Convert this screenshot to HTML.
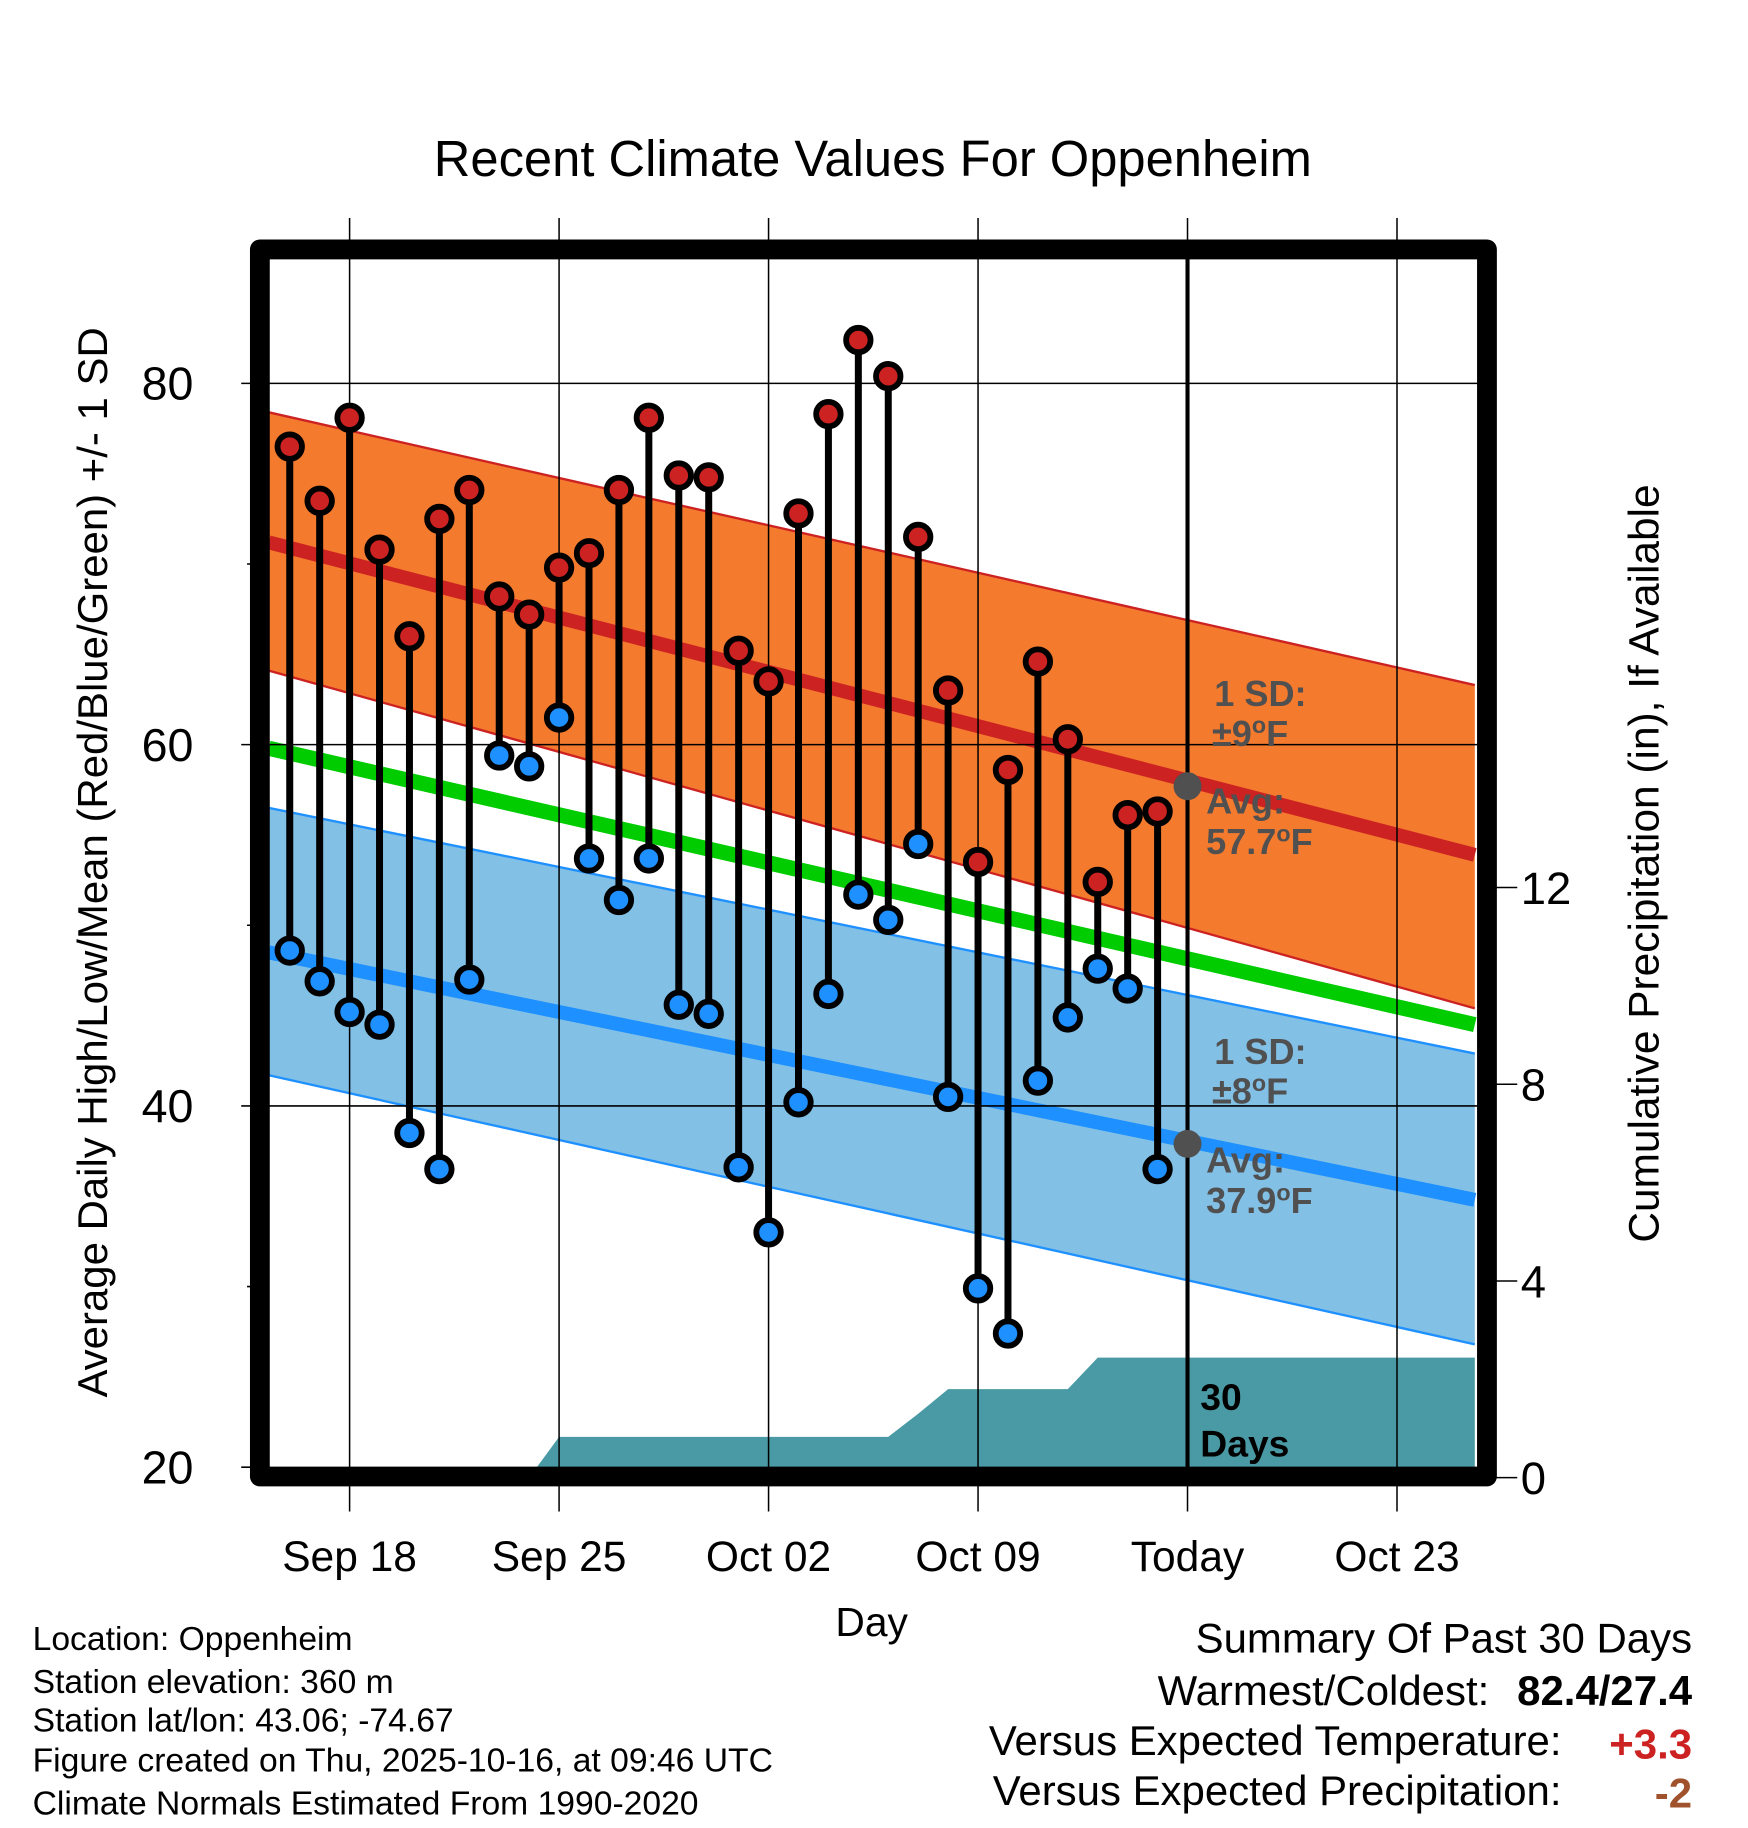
<!DOCTYPE html>
<html><head><meta charset="utf-8"><style>
html,body{margin:0;padding:0;background:#fff}
svg{display:block}
text{font-family:"Liberation Sans",Arial,sans-serif}
</style></head><body>
<svg id="chart" width="1748" height="1828" viewBox="0 0 1500 1568.6" xmlns="http://www.w3.org/2000/svg">
<text x="749" y="151" font-size="43.5" text-anchor="middle">Recent Climate Values For Oppenheim</text>
<g id="plot"></g>
<text transform="translate(92,740) rotate(-90)" font-size="36" text-anchor="middle">Average Daily High/Low/Mean (Red/Blue/Green) +/- 1 SD</text>
<text transform="translate(1423,741) rotate(-90)" font-size="36.4" text-anchor="middle">Cumulative Precipitation (in), If Available</text>
<text x="748" y="1404" font-size="35" text-anchor="middle">Day</text>
<g font-size="28.9">
<text x="28" y="1416">Location: Oppenheim</text>
<text x="28" y="1453">Station elevation: 360 m</text>
<text x="28" y="1486">Station lat/lon: 43.06; -74.67</text>
<text x="28" y="1520">Figure created on Thu, 2025-10-16, at 09:46 UTC</text>
<text x="28" y="1557">Climate Normals Estimated From 1990-2020</text>
</g>
<g font-size="36" text-anchor="end">
<text x="1452" y="1418">Summary Of Past 30 Days</text>
<text x="1278" y="1463">Warmest/Coldest:</text>
<text x="1452" y="1463" font-weight="bold">82.4/27.4</text>
<text x="1340" y="1506">Versus Expected Temperature:</text>
<text x="1452" y="1509" font-weight="bold" fill="#cc2222">+3.3</text>
<text x="1340" y="1549">Versus Expected Precipitation:</text>
<text x="1452" y="1551" font-weight="bold" fill="#a0522d">-2</text>
</g>
</svg>
<script>
// data
const dayOffsets = [-2,-1,0,1,2,3,4,5,6,7,8,9,10,11,12,13,14,15,16,17,18,19,20,21,22,23,24,25,26,27];
const highs = [76.5,73.5,78.1,70.8,66.0,72.5,74.1,68.2,67.2,69.8,70.6,74.1,78.1,74.9,74.8,65.2,63.5,72.8,78.3,82.4,80.4,71.5,63.0,53.5,58.6,64.6,60.3,52.4,56.1,56.3];
const lows = [48.6,46.9,45.2,44.5,38.5,36.5,47.0,59.4,58.8,61.5,53.7,51.4,53.7,45.6,45.1,36.6,33.0,40.2,46.2,51.7,50.3,54.5,40.5,29.9,27.4,41.4,44.9,47.6,46.5,36.5];
const normalDays = [-2.7, 37.6];
const highUpper = [78.4, 63.3];
const highMean = [71.2, 53.9];
const highLower = [64.1, 45.4];
const meanNormal = [59.8, 44.5];
const lowUpper = [56.5, 42.9];
const lowMean = [48.5, 34.8];
const lowLower = [41.7, 26.8];
const precipDays = [-2,6,7,18,19,20,24,25,28,37.6];
const precipCum = [0,0,0.83,0.83,1.3,1.8,1.8,2.44,2.44,2.44];
const xTickDays = [0,7,14,21,28,35];
const xTickLabels = ["Sep 18","Sep 25","Oct 02","Oct 09","Today","Oct 23"];
const yTicks = [20,40,60,80];
const yMinor = [30,50,70];
const y2Ticks = [0,4,8,12];
const todayDay = 28;
const todayHighAvg = 57.7, todayLowAvg = 37.9;

const X = d => 300 + 25.68*d;
const Y = t => 329 + (80-t)*15.5;
const Y2 = p => 1268 - 42.2*p;
const L=230,R=1268,T=220,B=1259;
const NS="http://www.w3.org/2000/svg";
const plot=document.getElementById('plot');
function mk(tag,attrs,parent){const e=document.createElementNS(NS,tag);for(const k in attrs)e.setAttribute(k,attrs[k]);(parent||plot).appendChild(e);return e;}

const defs=mk('defs',{});
const cp=mk('clipPath',{id:'clip'},defs);mk('rect',{x:L,y:T,width:R-L,height:B-T},cp);
const g=mk('g',{'clip-path':'url(#clip)'});

function band(up,lo,fill,edge,name){
  const p=mk('polygon',{points:`${X(normalDays[0])},${Y(up[0])} ${X(normalDays[1])},${Y(up[1])} ${X(normalDays[1])},${Y(lo[1])} ${X(normalDays[0])},${Y(lo[0])}`,fill:fill},g);
  
  
  [up,lo].forEach(a=>{const l=mk('line',{x1:X(normalDays[0]),y1:Y(a[0]),x2:X(normalDays[1]),y2:Y(a[1]),stroke:edge,'stroke-width':2},g);
    
    });
}
function mline(a,color,w,name){const l=mk('line',{x1:X(normalDays[0]),y1:Y(a[0]),x2:X(normalDays[1]),y2:Y(a[1]),stroke:color,'stroke-width':w},g);
  
  }
band(highUpper,highLower,'#f47a2e','#cc2222','high-sd-band');
band(lowUpper,lowLower,'#82c0e6','#1e90ff','low-sd-band');
mline(highMean,'#cc2222',12,'normal-high-line');
mline(lowMean,'#1e90ff',12,'normal-low-line');
mline(meanNormal,'#00cc00',13,'normal-mean-line');

// grid
yTicks.forEach(t=>{ if(t>20){const l=mk('line',{x1:L,x2:R,y1:Y(t),y2:Y(t),stroke:'#000','stroke-width':1.3});
  
  }
  const tk=mk('line',{x1:207,x2:L,y1:Y(t),y2:Y(t),stroke:'#000','stroke-width':1.3});
  
  
  const tx=mk('text',{x:166,y:Y(t)+14,'font-size':40,'text-anchor':'end'});tx.textContent=t;
  
  
});
yMinor.forEach(t=>{const tk=mk('line',{x1:212,x2:L,y1:Y(t),y2:Y(t),stroke:'#000','stroke-width':1.3});
  
  });
xTickDays.forEach((d,i)=>{const l=mk('line',{x1:X(d),x2:X(d),y1:187,y2:1297,stroke:'#000','stroke-width':1.3});
  
  
  const tx=mk('text',{x:X(d),y:1348,'font-size':36.5,'text-anchor':'middle'});tx.textContent=xTickLabels[i];
  
  });
y2Ticks.forEach(p=>{const tk=mk('line',{x1:1276,x2:1302,y1:Y2(p),y2:Y2(p),stroke:'#000','stroke-width':1.3});
  
  
  const tx=mk('text',{x:1305,y:Y2(p)+14,'font-size':39});tx.textContent=p;
  
  });

// precip
let pts=precipDays.map((d,i)=>`${X(d)},${Y2(precipCum[i])}`).join(' ');
pts+=` ${X(precipDays[precipDays.length-1])},${B+20} ${X(precipDays[0])},${B+20}`;
const pa=mk('polygon',{points:pts,fill:'#4a9aa5'},g);



// today line
const tl=mk('line',{x1:X(todayDay),x2:X(todayDay),y1:T,y2:B,stroke:'#000','stroke-width':3.5});



// stems and markers
dayOffsets.forEach((d,i)=>{
  const s=mk('line',{x1:X(d),x2:X(d),y1:Y(highs[i]),y2:Y(lows[i]),stroke:'#000','stroke-width':6});
  
  
});
dayOffsets.forEach((d,i)=>{
  const h=mk('circle',{cx:X(d),cy:Y(highs[i]),r:10.5,fill:'#cc2222',stroke:'#000','stroke-width':5});
  
  
  const lo=mk('circle',{cx:X(d),cy:Y(lows[i]),r:10.5,fill:'#1e90ff',stroke:'#000','stroke-width':5});
  
  
});
[todayHighAvg,todayLowAvg].forEach(v=>{const c=mk('circle',{cx:X(todayDay),cy:Y(v),r:12,fill:'#505050'});
  
  });

// annotations
function ann(x,y,txt,name,size){const t=mk('text',{x:x,y:y,'font-size':size||31,'font-weight':'bold',fill:'#505050'});t.innerHTML=txt;
  
  }
ann(1042,606,'1 SD:','high-sd-label');
ann(1040,640,'±9<tspan dy="-11" font-size="20">o</tspan><tspan dy="11">F</tspan>','high-sd-value');
ann(1035,698,'Avg:','high-avg-label');
ann(1035,733,'57.7<tspan dy="-11" font-size="20">o</tspan><tspan dy="11">F</tspan>','high-avg-value');
ann(1042,913,'1 SD:','low-sd-label');
ann(1040,947,'±8<tspan dy="-11" font-size="20">o</tspan><tspan dy="11">F</tspan>','low-sd-value');
ann(1035,1006,'Avg:','low-avg-label');
ann(1035,1041,'37.9<tspan dy="-11" font-size="20">o</tspan><tspan dy="11">F</tspan>','low-avg-value');
const d1=mk('text',{x:1030,y:1210,'font-size':32,'font-weight':'bold'});d1.textContent='30';


const d2=mk('text',{x:1030,y:1250,'font-size':32,'font-weight':'bold'});d2.textContent='Days';



// frame
const fr=mk('rect',{x:223,y:214,width:1053,height:1053,fill:'none',stroke:'#000','stroke-width':17,'stroke-linejoin':'round'});


</script>
</body></html>
